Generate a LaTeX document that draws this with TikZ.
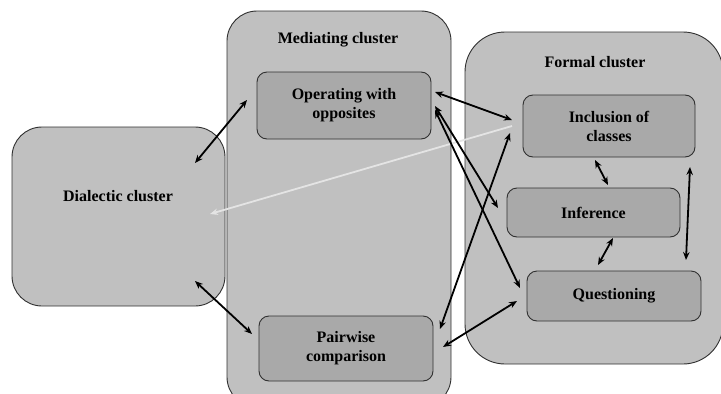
\documentclass[tikz,border=0pt]{standalone}
\usepackage{fontspec}
\setmainfont{Liberation Serif}
\usetikzlibrary{arrows.meta}
\definecolor{clfill}{HTML}{C0C0C0}
\definecolor{bxfill}{HTML}{A9A9A9}
\definecolor{edge}{HTML}{303030}
\definecolor{lightarr}{HTML}{E4E4E4}
\tikzset{
  cluster/.style={draw=edge, line width=0.9pt, fill=clfill, rounded corners=#1, inner sep=0pt},
  inbox/.style={draw=edge, line width=0.9pt, fill=bxfill, rounded corners=10pt, inner sep=0pt, align=center, font=\fontsize{16}{19}\selectfont\bfseries},
  ttl/.style={font=\fontsize{16}{19}\selectfont\bfseries, inner sep=0pt},
  link/.style={line width=1.8pt, black, {Stealth[length=8pt,width=6.5pt]}-{Stealth[length=8pt,width=6.5pt]}},
  glink/.style={line width=1.8pt, lightarr, {Stealth[length=8pt,width=6.5pt]}-},
}
\begin{document}
\begin{tikzpicture}[x=1pt,y=-1pt]
\useasboundingbox (0,0) rectangle (721,394);
\clip (0,0) rectangle (721,394);
% clusters
\node[cluster=30pt, minimum width=224pt, minimum height=396pt] (med) at (339,209) {};
\node[cluster=30pt, minimum width=213pt, minimum height=179pt] (dia) at (118.5,216.5) {};
\node[cluster=40pt, minimum width=258pt, minimum height=332pt] (for) at (594,198) {};
% titles
\node[ttl] (medt) at (338,40) {Mediating cluster};
\node[ttl] (fort) at (595,62) {Formal cluster};
\node[ttl] (diat) at (118,196) {Dialectic cluster};
% inner boxes
\node[inbox, minimum width=174pt, minimum height=67pt] (op) at (344,105.5) {Operating with\\opposites};
\node[inbox, minimum width=174pt, minimum height=65pt] (pw) at (346,348.5) {Pairwise\\comparison};
\node[inbox, minimum width=172pt, minimum height=62pt] (inc) at (609,126) {Inclusion of\\classes};
\node[inbox, minimum width=173pt, minimum height=49pt] (inf) at (593.5,212.5) {Inference};
\node[inbox, minimum width=174pt, minimum height=50pt] (qu) at (614,296) {Questioning};
% arrow endpoints
\coordinate (d1) at (195,163); \coordinate (o1) at (247,100);
\coordinate (d2) at (195,281); \coordinate (p1) at (252,334);
\coordinate (o2) at (435,92);  \coordinate (i1) at (512,120);
\coordinate (i0) at (512,126); \coordinate (d0) at (210,214);
\coordinate (o3) at (435,106); \coordinate (f1) at (498,208);
\coordinate (o4) at (435,110); \coordinate (q1) at (520,288);
\coordinate (p2) at (440,329); \coordinate (i2) at (510,133);
\coordinate (p3) at (443,347); \coordinate (q2) at (517,301);
\coordinate (i3) at (595,160); \coordinate (f2) at (608,185);
\coordinate (f3) at (613,238); \coordinate (q3) at (598,265);
\coordinate (i4) at (690,167); \coordinate (q4) at (686,260);
% connectors
\draw[glink] (d0) -- (i0);
\draw[link] (d1) -- (o1);
\draw[link] (d2) -- (p1);
\draw[link] (o2) -- (i1);
\draw[link] (o3) -- (f1);
\draw[link] (o4) -- (q1);
\draw[link] (p2) -- (i2);
\draw[link] (p3) -- (q2);
\draw[link] (i3) -- (f2);
\draw[link] (f3) -- (q3);
\draw[link] (i4) -- (q4);
\end{tikzpicture}
\end{document}
